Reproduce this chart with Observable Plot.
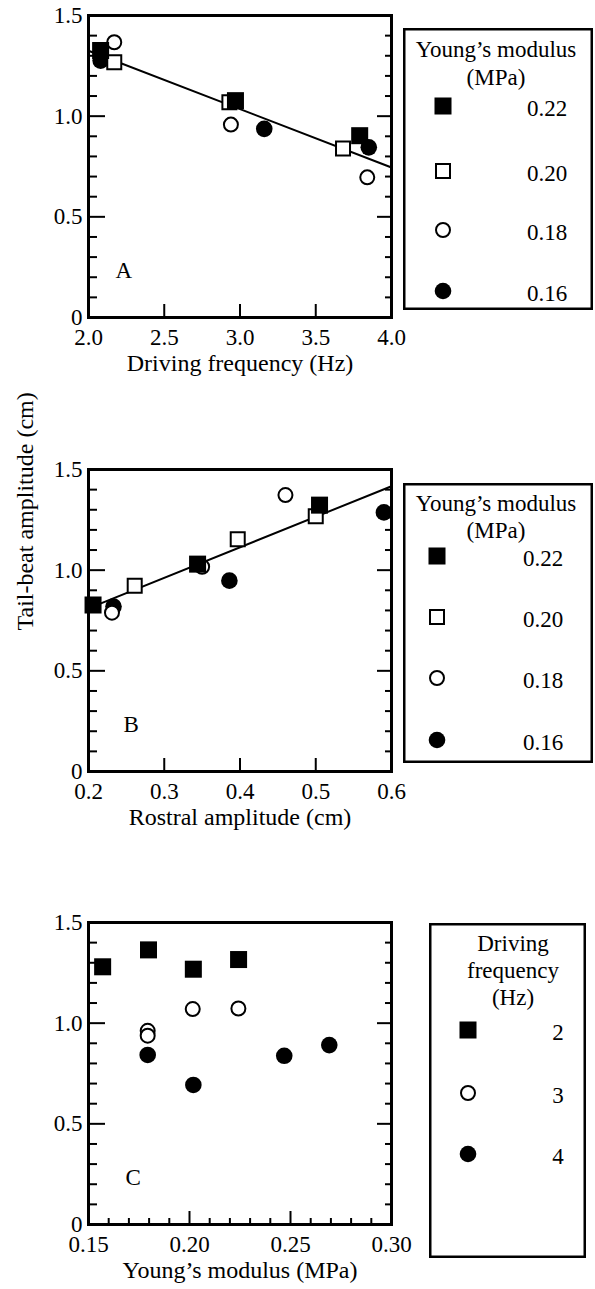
<!DOCTYPE html>
<html>
<head>
<meta charset="utf-8">
<script src="https://cdn.jsdelivr.net/npm/d3@7"></script>
<script src="https://cdn.jsdelivr.net/npm/@observablehq/plot@0.6"></script>
<style>
  html, body { margin: 0; padding: 0; background: #fff; }
  #fig { position: relative; width: 595px; height: 1289px; overflow: hidden; background: #fff;
         font-family: "Liberation Serif", "Times New Roman", serif; }
  #fig > svg, #fig > figure { position: absolute; margin: 0; }
</style>
</head>
<body>
<div id="fig"></div>
<script>
// ---------- data ----------
const modulusLabels = ["0.22", "0.20", "0.18", "0.16"];
const freqLabels = ["2", "3", "4"];

// Panel A: driving frequency (Hz) vs tail-beat amplitude (cm), series = Young's modulus
const aFreq = [[2.08, 2.97, 3.79], [2.17, 2.93, 3.68], [2.17, 2.94, 3.84], [2.08, 3.16, 3.85]];
const aAmp  = [[1.326, 1.077, 0.903], [1.268, 1.069, 0.840], [1.367, 0.958, 0.696], [1.276, 0.937, 0.845]];
const aFitX = [2.0, 4.0];
const aFitY = [1.325, 0.745];

// Panel B: rostral amplitude (cm) vs tail-beat amplitude (cm)
const bRostral = [[0.206, 0.344, 0.505], [0.261, 0.397, 0.500], [0.231, 0.350, 0.460], [0.233, 0.386, 0.590]];
const bAmp     = [[0.827, 1.030, 1.323], [0.923, 1.153, 1.268], [0.789, 1.017, 1.373], [0.819, 0.948, 1.287]];
const bFitX = [0.2, 0.6];
const bFitY = [0.81, 1.417];

// Panel C: Young's modulus (MPa) vs tail-beat amplitude (cm), series = driving frequency
const cModulus = [[0.157, 0.1797, 0.2019, 0.2243], [0.1793, 0.1793, 0.2016, 0.2242], [0.1793, 0.2019, 0.2469, 0.2692]];
const cAmp     = [[1.280, 1.364, 1.268, 1.316], [0.962, 0.938, 1.070, 1.073], [0.842, 0.693, 0.838, 0.891]];

// ticks
const yLabelTicks = [0, 0.5, 1.0, 1.5];
const yMajorTicks = [0.5, 1.0];
const yMinorTicks = [0.1, 0.2, 0.3, 0.4, 0.6, 0.7, 0.8, 0.9, 1.1, 1.2, 1.3, 1.4];
const aXLabelTicks = [2.0, 2.5, 3.0, 3.5, 4.0];
const aXMajorTicks = [2.5, 3.0, 3.5];
const bXLabelTicks = [0.2, 0.3, 0.4, 0.5, 0.6];
const bXMajorTicks = [0.3, 0.4, 0.5];
const cXLabelTicks = [0.15, 0.20, 0.25, 0.30];
const cXMajorTicks = [0.20, 0.25];
const cXMinorTicks = [0.16, 0.17, 0.18, 0.19, 0.21, 0.22, 0.23, 0.24, 0.26, 0.27, 0.28, 0.29];

// ---------- styles of the series ----------
const FONT = '"Liberation Serif", "Times New Roman", serif';
const styles = {
  fsquare: {symbol: "square", r: 9.6, fill: "black", stroke: "none"},
  osquare: {symbol: "square", r: 7.9, fill: "white", stroke: "black", strokeWidth: 2},
  ocircle: {symbol: "circle", r: 7, fill: "white", stroke: "black", strokeWidth: 2},
  fcircle: {symbol: "circle", r: 8.3, fill: "black", stroke: "none"}
};
const modulusStyles = ["fsquare", "osquare", "ocircle", "fcircle"];
const freqStyles = ["fsquare", "ocircle", "fcircle"];

function rows(xs, ys) { return xs.map((x, i) => ({x, y: ys[i]})); }

function panel({xDomain, xLabels, xFmt, xMajor, xMinor, xs, ys, seriesStyles, drawOrder, fitX, fitY, letter, letterDx, xTitle, yTitle}) {
  const marks = [];
  if (fitX) marks.push(Plot.line(rows(fitX, fitY), {x: "x", y: "y", stroke: "black", strokeWidth: 2}));
  for (const i of drawOrder) {
    const st = styles[seriesStyles[i]];
    marks.push(Plot.dot(rows(xs[i], ys[i]), {x: "x", y: "y", ...st}));
  }
  marks.push(Plot.frame({stroke: "black", strokeWidth: 3}));
  // y axis labels and inward ticks (left + right)
  marks.push(Plot.axisY(yLabelTicks, {tickSize: 0, tickPadding: 6, fill: "black", tickFormat: d => d === 0 ? "0" : d.toFixed(1), label: null}));
  marks.push(Plot.axisY(yMajorTicks, {anchor: "left", tickSize: -17, strokeWidth: 2, stroke: "black", fill: "none", label: null}));
  marks.push(Plot.axisY(yMinorTicks, {anchor: "left", tickSize: -9, strokeWidth: 2, stroke: "black", fill: "none", label: null}));
  marks.push(Plot.axisY(yMajorTicks, {anchor: "right", tickSize: -15, strokeWidth: 2, stroke: "black", fill: "none", label: null}));
  marks.push(Plot.axisY(yMinorTicks, {anchor: "right", tickSize: -7, strokeWidth: 2, stroke: "black", fill: "none", label: null}));
  // x axis
  marks.push(Plot.axisX(xLabels, {tickSize: 0, tickPadding: 11, fill: "black", tickFormat: xFmt, label: null}));
  marks.push(Plot.axisX(xMajor, {anchor: "bottom", tickSize: -13, strokeWidth: 2, stroke: "black", fill: "none", label: null}));
  if (xMinor) marks.push(Plot.axisX(xMinor, {anchor: "bottom", tickSize: -6, strokeWidth: 2, stroke: "black", fill: "none", label: null}));
  // titles
  marks.push(Plot.text([xTitle], {frameAnchor: "bottom", dy: 53, fontSize: 24, fill: "black", text: d => d}));
  if (yTitle) marks.push(Plot.text([yTitle], {frameAnchor: "left", dx: -63, dy: 10, rotate: -90, fontSize: 24, fill: "black", text: d => d}));
  marks.push(Plot.text([letter], {frameAnchor: "bottom-left", dx: letterDx, dy: -40, fontSize: 23, fill: "black", text: d => d}));

  return Plot.plot({
    width: 420, height: 390,
    marginLeft: 88, marginRight: 29, marginTop: 15, marginBottom: 73,
    x: {domain: xDomain},
    y: {domain: [0, 1.5]},
    style: {fontFamily: FONT, fontSize: "23px", color: "black", background: "transparent", overflow: "visible"},
    marks
  });
}

function legend({left, top, width, height, titleLines, titleX, titleY, labels, seriesStyles, rowY, markerX, textX}) {
  const svg = d3.create("svg")
    .attr("width", width).attr("height", height)
    .style("left", left + "px").style("top", top + "px")
    .style("overflow", "visible")
    .attr("font-family", FONT).attr("font-size", 23);
  svg.append("rect").attr("x", 1.25).attr("y", 1.25)
    .attr("width", width - 2.5).attr("height", height - 2.5)
    .attr("fill", "white").attr("stroke", "black").attr("stroke-width", 2.5);
  titleLines.forEach((t, i) => {
    svg.append("text").attr("x", titleX).attr("y", titleY[i]).attr("dy", "0.33em")
      .attr("text-anchor", "middle").attr("fill", "black").text(t);
  });
  labels.forEach((lab, i) => {
    const st = styles[seriesStyles[i]];
    const type = st.symbol === "square" ? d3.symbolSquare : d3.symbolCircle;
    svg.append("path")
      .attr("transform", `translate(${markerX},${rowY[i] - 2})`)
      .attr("d", d3.symbol(type, Math.PI * st.r * st.r)())
      .attr("fill", st.fill).attr("stroke", st.stroke)
      .attr("stroke-width", st.strokeWidth || 0);
    svg.append("text").attr("x", textX).attr("y", rowY[i]).attr("dy", "0.35em")
      .attr("text-anchor", "middle").attr("fill", "black").text(lab);
  });
  return svg.node();
}

const fig = document.getElementById("fig");
function place(node, left, top) { node.style.left = left + "px"; node.style.top = top + "px"; fig.appendChild(node); }

const fmt1 = d => d.toFixed(1);
const fmt2 = d => d.toFixed(2);

place(panel({
  xDomain: [2, 4], xLabels: aXLabelTicks, xFmt: fmt1, xMajor: aXMajorTicks,
  xs: aFreq, ys: aAmp, seriesStyles: modulusStyles, drawOrder: [3, 2, 1, 0],
  fitX: aFitX, fitY: aFitY, letter: "A", letterDx: 27,
  xTitle: "Driving frequency (Hz)"
}), 0, 0);
fig.appendChild(legend({
  left: 403, top: 28, width: 190, height: 282,
  titleLines: ["Young\u2019s modulus", "(MPa)"], titleX: 93, titleY: [21, 49],
  labels: modulusLabels, seriesStyles: modulusStyles,
  rowY: [80, 145, 204, 265], markerX: 40, textX: 144
}));

place(panel({
  xDomain: [0.2, 0.6], xLabels: bXLabelTicks, xFmt: fmt1, xMajor: bXMajorTicks,
  xs: bRostral, ys: bAmp, seriesStyles: modulusStyles, drawOrder: [3, 2, 1, 0],
  fitX: bFitX, fitY: bFitY, letter: "B", letterDx: 35,
  xTitle: "Rostral amplitude (cm)", yTitle: "Tail-beat amplitude (cm)"
}), 0, 454);
fig.appendChild(legend({
  left: 403, top: 483, width: 190, height: 280,
  titleLines: ["Young\u2019s modulus", "(MPa)"], titleX: 93, titleY: [20, 47],
  labels: modulusLabels, seriesStyles: modulusStyles,
  rowY: [75, 136, 197, 259], markerX: 34, textX: 140
}));

place(panel({
  xDomain: [0.15, 0.30], xLabels: cXLabelTicks, xFmt: fmt2, xMajor: cXMajorTicks, xMinor: cXMinorTicks,
  xs: cModulus, ys: cAmp, seriesStyles: freqStyles, drawOrder: [2, 1, 0],
  letter: "C", letterDx: 37,
  xTitle: "Young\u2019s modulus (MPa)"
}), 0, 907);
fig.appendChild(legend({
  left: 429, top: 923, width: 157, height: 335,
  titleLines: ["Driving", "frequency", "(Hz)"], titleX: 84, titleY: [20, 47, 74],
  labels: freqLabels, seriesStyles: freqStyles,
  rowY: [109, 172, 233], markerX: 39, textX: 129
}));
</script>
</body>
</html>
